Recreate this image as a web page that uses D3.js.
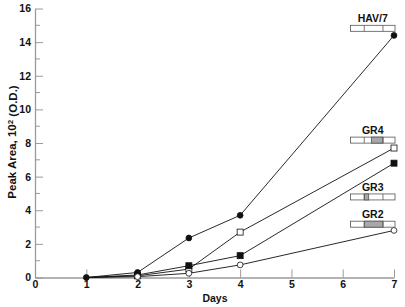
<!DOCTYPE html>
<html>
<head>
<meta charset="utf-8">
<script src="https://cdn.jsdelivr.net/npm/d3@7"></script>
<style>
  body { margin: 0; background: #fff; }
  text { font-family: "Liberation Sans", Arial, sans-serif; font-weight: bold; }
</style>
</head>
<body>
<div id="chart"></div>
<script>
// Data
var days = [1, 2, 3, 4, 7];
var hav7 = [0, 0.3, 2.35, 3.7, 14.4];
var gr4 = [0, 0.1, 0.5, 2.7, 7.7];
var gr3 = [0, 0.15, 0.7, 1.3, 6.8];
var gr2 = [0, 0.05, 0.25, 0.75, 2.8];
var xTicks = [0, 1, 2, 3, 4, 5, 6, 7];
var yTicks = [0, 2, 4, 6, 8, 10, 12, 14, 16];

var series = [
  { name: "HAV/7", values: hav7, shape: "circle", filled: true },
  { name: "GR4", values: gr4, shape: "square", filled: false },
  { name: "GR3", values: gr3, shape: "square", filled: true },
  { name: "GR2", values: gr2, shape: "circle", filled: false }
];

// construct glyphs: label, top of the box (data units), shaded segment (fraction of box)
var glyphs = [
  { name: "HAV/7", y: 15.0, shade: null },
  { name: "GR4", y: 8.35, shade: [0.47, 0.73] },
  { name: "GR3", y: 4.97, shade: [0.31, 0.41] },
  { name: "GR2", y: 3.35, shade: [0.31, 0.73] }
];
var dividers = [0.31, 0.73];

var margin = { top: 8.5, right: 11, bottom: 29.5, left: 35 },
    width = 405 - margin.left - margin.right,
    height = 307 - margin.top - margin.bottom;

var svg = d3.select("#chart")
    .append("svg")
    .attr("width", 405)
    .attr("height", 307)
    .append("g")
    .attr("transform", `translate(${margin.left},${margin.top})`);

var x = d3.scaleLinear().domain([0, 7]).range([0, 359]);
var y = d3.scaleLinear().domain([0, 16]).range([height, 0]);

var axisColor = "#9a9a9a";

// X axis (ticks pointing up)
var xAxis = svg.append("g")
    .attr("transform", `translate(0,${height})`)
    .call(d3.axisBottom(x).tickValues(xTicks).tickFormat(d3.format("d"))
      .tickSizeInner(-8).tickSizeOuter(0).tickPadding(3));
xAxis.select(".domain").attr("stroke", axisColor).attr("stroke-width", 1.3);
xAxis.selectAll(".tick line").attr("stroke", axisColor);
xAxis.selectAll(".tick text").style("font-size", "10.5px").attr("fill", "#111");

// Y axis (ticks pointing right), minor ticks at odd values
var yAxis = svg.append("g")
    .call(d3.axisLeft(y).tickValues(yTicks).tickFormat(d3.format("d"))
      .tickSizeInner(-8).tickSizeOuter(0).tickPadding(4));
yAxis.select(".domain").attr("stroke", axisColor).attr("stroke-width", 1.3);
yAxis.selectAll(".tick line").attr("stroke", axisColor);
yAxis.selectAll(".tick text").style("font-size", "10.5px").attr("fill", "#111");

svg.append("g").selectAll("line")
    .data(d3.range(1, 16, 2))
    .enter().append("line")
    .attr("x1", 0).attr("x2", 5)
    .attr("y1", d => y(d)).attr("y2", d => y(d))
    .attr("stroke", axisColor);

// Axis titles
svg.append("text")
    .attr("x", 180)
    .attr("y", height + 24)
    .attr("text-anchor", "middle")
    .style("font-size", "10.5px")
    .attr("fill", "#111")
    .text("Days");

var ylab = svg.append("text")
    .attr("transform", `translate(-19,${height / 2 - 1}) rotate(-90)`)
    .attr("text-anchor", "middle")
    .style("font-size", "11.5px")
    .attr("fill", "#111");
ylab.append("tspan").text("Peak Area, 10");
ylab.append("tspan").attr("dy", "-0.4em").style("font-size", "8px").text("2");
ylab.append("tspan").attr("dy", "0.4em").text(" (O.D.)");

// Lines
var line = d3.line().x((d, i) => x(days[i])).y(d => y(d));
svg.selectAll(".series")
    .data(series)
    .enter().append("path")
    .attr("d", d => line(d.values))
    .attr("fill", "none")
    .attr("stroke", "#111")
    .attr("stroke-width", 0.9);

// Markers
series.forEach(function (s) {
  var pts = s.values.map((v, i) => ({ day: days[i], v: v }));
  if (s.name !== "HAV/7") pts = pts.slice(1);
  var g = svg.append("g");
  if (s.shape === "circle") {
    g.selectAll("circle").data(pts).enter().append("circle")
      .attr("cx", d => x(d.day)).attr("cy", d => y(d.v))
      .attr("r", 2.9)
      .attr("fill", s.filled ? "#111" : "#fff")
      .attr("stroke", "#111").attr("stroke-width", 0.8);
  } else {
    g.selectAll("rect").data(pts).enter().append("rect")
      .attr("x", d => x(d.day) - 3).attr("y", d => y(d.v) - 3)
      .attr("width", 6).attr("height", 6)
      .attr("fill", s.filled ? "#111" : "#fff")
      .attr("stroke", "#111").attr("stroke-width", 0.8);
  }
});

// Construct glyphs
var bx0 = x(6.15), bx1 = x(7.02), bw = bx1 - bx0, bh = 6;
var gg = svg.append("g").selectAll("g").data(glyphs).enter().append("g");
gg.append("rect")
    .attr("x", bx0).attr("y", d => y(d.y))
    .attr("width", bw).attr("height", bh)
    .attr("fill", "#fff").attr("stroke", "#555").attr("stroke-width", 0.8);
gg.filter(d => d.shade).append("rect")
    .attr("x", d => bx0 + d.shade[0] * bw).attr("y", d => y(d.y))
    .attr("width", d => (d.shade[1] - d.shade[0]) * bw).attr("height", bh)
    .attr("fill", "#a8a8a8").attr("stroke", "#555").attr("stroke-width", 0.8);
dividers.forEach(function (f) {
  gg.append("line")
    .attr("x1", bx0 + f * bw).attr("x2", bx0 + f * bw)
    .attr("y1", d => y(d.y)).attr("y2", d => y(d.y) + bh)
    .attr("stroke", "#555").attr("stroke-width", 0.8);
});
gg.append("text")
    .attr("x", bx0 + bw / 2)
    .attr("y", d => y(d.y) - 3)
    .attr("text-anchor", "middle")
    .style("font-size", "10.5px")
    .attr("fill", "#111")
    .text(d => d.name);
</script>
</body>
</html>
